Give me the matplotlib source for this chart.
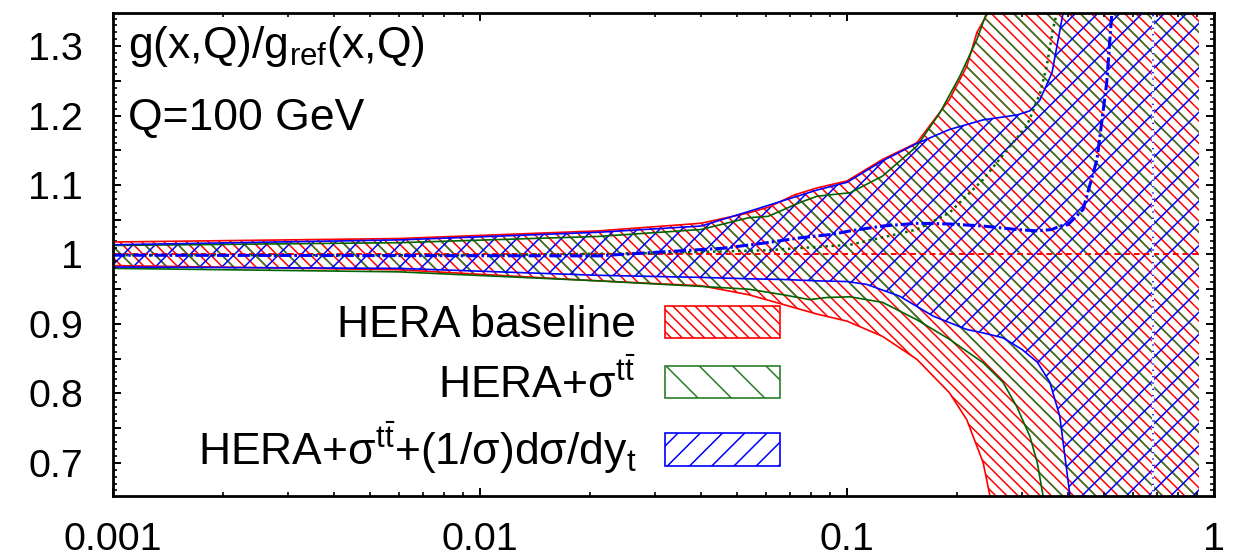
import numpy as np
import matplotlib
matplotlib.use('Agg')
import matplotlib.pyplot as plt
from matplotlib.patches import Patch
from matplotlib.ticker import MultipleLocator, LogLocator, NullFormatter, FixedLocator, FixedFormatter

# ---- data (x = momentum fraction, y = ratio) ----
# HERA baseline (red)
red_hi_x = [0.001, 0.006, 0.021, 0.040, 0.054, 0.061, 0.072, 0.083, 0.100, 0.125, 0.155, 0.19, 0.212, 0.226, 0.242, 0.26, 0.91]
red_hi_y = [1.018, 1.023, 1.034, 1.045, 1.060, 1.068, 1.086, 1.096, 1.106, 1.137, 1.161, 1.223, 1.271, 1.32, 1.348, 1.45, 1.45]
red_lo_x = [0.001, 0.006, 0.021, 0.040, 0.054, 0.067, 0.083, 0.100, 0.125, 0.155, 0.19, 0.212, 0.235, 0.245, 0.26, 0.91]
red_lo_y = [0.984, 0.978, 0.962, 0.955, 0.942, 0.928, 0.914, 0.904, 0.882, 0.849, 0.801, 0.762, 0.700, 0.653, 0.55, 0.55]

# HERA + sigma_ttbar (green)
grn_hi_x = [0.001, 0.006, 0.021, 0.040, 0.054, 0.061, 0.0745, 0.083, 0.102, 0.125, 0.155, 0.179, 0.203, 0.226, 0.240, 0.26, 0.91]
grn_hi_y = [1.013, 1.017, 1.026, 1.036, 1.053, 1.055, 1.075, 1.084, 1.089, 1.113, 1.156, 1.204, 1.257, 1.31, 1.348, 1.45, 1.45]
grn_lo_x = [0.001, 0.006, 0.021, 0.040, 0.054, 0.067, 0.079, 0.088, 0.102, 0.125, 0.155, 0.19, 0.235, 0.266, 0.29, 0.315, 0.33, 0.342, 0.36, 0.91]
grn_lo_y = [0.980, 0.975, 0.962, 0.954, 0.950, 0.942, 0.935, 0.938, 0.939, 0.931, 0.906, 0.878, 0.844, 0.816, 0.781, 0.738, 0.700, 0.653, 0.55, 0.55]

# HERA + sigma_ttbar + (1/sigma) dsigma/dy_t (blue)
blu_hi_x = [0.001, 0.006, 0.021, 0.040, 0.054, 0.083, 0.100, 0.125, 0.155, 0.19, 0.235, 0.29, 0.315, 0.335, 0.362, 0.388, 0.41, 0.91]
blu_hi_y = [1.014, 1.021, 1.032, 1.041, 1.062, 1.093, 1.104, 1.135, 1.160, 1.180, 1.194, 1.201, 1.207, 1.222, 1.262, 1.348, 1.45, 1.45]
blu_lo_x = [0.001, 0.006, 0.021, 0.040, 0.054, 0.067, 0.083, 0.100, 0.113, 0.139, 0.172, 0.212, 0.235, 0.266, 0.30, 0.33, 0.357, 0.38, 0.405, 0.42, 0.91]
blu_lo_y = [0.982, 0.980, 0.970, 0.967, 0.965, 0.964, 0.962, 0.961, 0.957, 0.940, 0.911, 0.892, 0.887, 0.880, 0.863, 0.845, 0.816, 0.767, 0.653, 0.55, 0.55]

# central values
red_c_x = [0.001, 0.91]
red_c_y = [1.0, 1.0]
grn_c_x = [0.001, 0.01, 0.03, 0.06, 0.102, 0.155, 0.19, 0.235, 0.278, 0.309, 0.336, 0.35, 0.364, 0.373, 0.38]
grn_c_y = [0.999, 0.999, 1.002, 1.006, 1.014, 1.036, 1.060, 1.108, 1.156, 1.185, 1.233, 1.271, 1.324, 1.348, 1.45]
blu_c_x = [0.001, 0.021, 0.032, 0.046, 0.0605, 0.0745, 0.091, 0.102, 0.125, 0.155, 0.19, 0.235, 0.29, 0.33, 0.362, 0.38, 0.40, 0.44, 0.48, 0.51, 0.527, 0.55]
blu_c_y = [0.999, 0.998, 1.004, 1.009, 1.017, 1.024, 1.029, 1.034, 1.041, 1.045, 1.044, 1.041, 1.036, 1.034, 1.036, 1.041, 1.043, 1.065, 1.137, 1.247, 1.348, 1.45]
gap_x = [0.68, 0.68]
gap_y = [0.55, 1.45]

labels = ['HERA baseline',
          r'HERA+σ$^{\mathrm{t}\bar{\mathrm{t}}}$',
          r'HERA+σ$^{\mathrm{t}\bar{\mathrm{t}}}$+(1/σ)dσ/dy$_{\mathrm{t}}$']
colors = ['#ff0000', '#2a7d2a', '#0000ff']
line_colors = ['#ff0000', '#006400', '#0000ff']
hatches = ['\\' * 6, '\\' * 2, '/' * 3]

ytick_vals = np.arange(0.70, 1.3001, 0.05)
xtick_vals = [0.001, 0.01, 0.1, 1]
xtick_labels = ['0.001', '0.01', '0.1', '1']

plt.rcParams['font.family'] = ['Liberation Sans', 'DejaVu Sans']
plt.rcParams['mathtext.fontset'] = 'custom'
plt.rcParams['mathtext.rm'] = 'Liberation Sans'
plt.rcParams['mathtext.it'] = 'Liberation Sans:italic'
plt.rcParams['hatch.linewidth'] = 0.55

fig = plt.figure(figsize=(6.23, 2.8), dpi=200)
ax = fig.add_axes([0.0907, 0.1143, 0.8836, 0.8625])

bands = [(red_hi_x, red_hi_y, red_lo_x, red_lo_y),
         (grn_hi_x, grn_hi_y, grn_lo_x, grn_lo_y),
         (blu_hi_x, blu_hi_y, blu_lo_x, blu_lo_y)]

for (hx, hy, lx, ly), c, lc, h in zip(bands, colors, line_colors, hatches):
    px = np.concatenate([hx, lx[::-1]])
    py = np.concatenate([hy, ly[::-1]])
    ax.fill(px, py, facecolor='none', edgecolor=c, hatch=h, linewidth=0)
    ax.plot(hx, hy, color=lc, lw=0.6)
    ax.plot(lx, ly, color=lc, lw=0.6)

ax.plot(red_c_x, red_c_y, color='#ff0000', lw=0.7, ls=(0, (3, 2)))
ax.plot(grn_c_x, grn_c_y, color='#006400', lw=0.9, ls=(0, (1, 1.5)))
ax.plot(blu_c_x, blu_c_y, color='#0000ff', lw=1.1, ls=(0, (4, 1, 0.8, 1)))
ax.plot(gap_x, gap_y, color='white', lw=0.8)
ax.plot(gap_x, gap_y, color='#0000ff', lw=0.6, ls=(0, (0.8, 3)))

ax.set_xscale('log')
ax.set_xlim(0.001, 1)
ax.set_ylim(0.652, 1.348)

ax.xaxis.set_major_locator(FixedLocator(xtick_vals))
ax.xaxis.set_major_formatter(FixedFormatter(xtick_labels))
ax.xaxis.set_minor_locator(LogLocator(base=10, subs=np.arange(2, 10)))
ax.xaxis.set_minor_formatter(NullFormatter())
ax.set_yticks(ytick_vals)
ax.set_yticklabels([f'{v:g}' if abs(round(v * 10) - v * 10) < 1e-6 else '' for v in ytick_vals])
ax.yaxis.set_minor_locator(MultipleLocator(0.01))

ax.tick_params(which='both', direction='in', top=True, right=True, labelsize=14.2)
ax.tick_params(which='major', length=2.9, width=0.7)
ax.tick_params(which='minor', length=1.4, width=0.6)
ax.tick_params(axis='y', pad=10.8)
ax.tick_params(axis='x', pad=9.5)
for s in ax.spines.values():
    s.set_linewidth(1.0)

ax.text(0.0136, 0.907, r'g(x,Q)/g$_{\mathrm{ref}}$(x,Q)', transform=ax.transAxes,
        fontsize=16, va='baseline', ha='left')
ax.text(0.0136, 0.758, 'Q=100 GeV', transform=ax.transAxes,
        fontsize=16, va='baseline', ha='left')

handles = [Patch(facecolor='none', edgecolor=c, hatch=h, lw=0.6)
           for c, h in zip(colors, hatches)]
ax.legend(handles, labels, loc='upper right', bbox_to_anchor=(0.606, 0.395),
          markerfirst=False, frameon=False, fontsize=16,
          handlelength=2.59, handleheight=0.74, handletextpad=0.65,
          labelspacing=0.3, borderpad=0, borderaxespad=0)

fig.savefig('out.png', dpi=200)
